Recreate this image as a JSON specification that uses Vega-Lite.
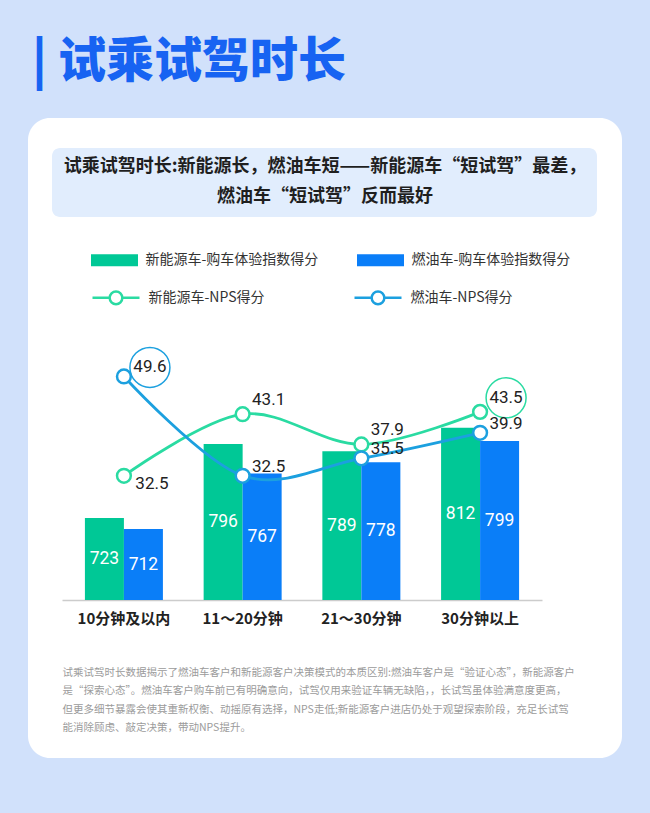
{
  "$schema": "https://vega.github.io/schema/vega-lite/v6.json",
  "width": 594,
  "height": 640,
  "autosize": {"type": "none"},
  "padding": {"left": 28, "right": 28, "top": 118, "bottom": 55},
  "background": "#d1e1fb",
  "config": {
    "view": {"fill": "#ffffff", "stroke": null, "cornerRadius": 22},
    "font": "Noto Sans CJK SC"
  },
  "title": {
    "text": "| 试乘试驾时长",
    "anchor": "start",
    "frame": "group",
    "fontSize": 48,
    "fontWeight": 900,
    "color": "#1763f2",
    "font": "Noto Sans CJK SC",
    "baseline": "alphabetic",
    "offset": -7,
    "dx": 4
  },
  "datasets": {
    "bars": [
      {"cat": "10分钟及以内", "series": "新能源车-购车体验指数得分", "score": 723},
      {"cat": "10分钟及以内", "series": "燃油车-购车体验指数得分", "score": 712},
      {"cat": "11～20分钟", "series": "新能源车-购车体验指数得分", "score": 796},
      {"cat": "11～20分钟", "series": "燃油车-购车体验指数得分", "score": 767},
      {"cat": "21～30分钟", "series": "新能源车-购车体验指数得分", "score": 789},
      {"cat": "21～30分钟", "series": "燃油车-购车体验指数得分", "score": 778},
      {"cat": "30分钟以上", "series": "新能源车-购车体验指数得分", "score": 812},
      {"cat": "30分钟以上", "series": "燃油车-购车体验指数得分", "score": 799}
    ],
    "nps": [
      {"cat": "10分钟及以内", "series": "新能源车-NPS得分", "nps": 32.5},
      {"cat": "11～20分钟", "series": "新能源车-NPS得分", "nps": 43.1},
      {"cat": "21～30分钟", "series": "新能源车-NPS得分", "nps": 37.9},
      {"cat": "30分钟以上", "series": "新能源车-NPS得分", "nps": 43.5},
      {"cat": "10分钟及以内", "series": "燃油车-NPS得分", "nps": 49.6},
      {"cat": "11～20分钟", "series": "燃油车-NPS得分", "nps": 32.5},
      {"cat": "21～30分钟", "series": "燃油车-NPS得分", "nps": 35.5},
      {"cat": "30分钟以上", "series": "燃油车-NPS得分", "nps": 39.9}
    ]
  },
  "resolve": {"scale": {"y": "independent"}},
  "layer": [
    {
      "layer": [
        {
          "data": {"values": [{"box": "subtitle"}]},
          "mark": {"type": "rect", "fill": "#e1edfd", "cornerRadius": 8, "xOffset": -25, "x2Offset": 24},
          "encoding": {
            "x": {"value": "width"},
            "x2": {"value": 0},
            "y": {"datum": 1088.4, "type": "quantitative", "axis": null},
            "y2": {"datum": 1020.2}
          }
        },
        {
          "data": {"values": [{"box": "subtitle"}]},
          "mark": {"type": "text", "align": "center", "baseline": "middle", "fontSize": 18, "fontWeight": "bold", "color": "#1f1f1f", "lineHeight": 30, "font": "Noto Sans CJK SC"},
          "encoding": {
            "y": {"datum": 1069.6, "type": "quantitative", "axis": null},
            "text": {"value": ["试乘试驾时长:新能源长，燃油车短——新能源车“短试驾”最差，", "燃油车“短试驾”反而最好"]}
          }
        },
        {
          "data": {"name": "bars"},
          "mark": {"type": "bar"},
          "encoding": {
            "x": {
              "field": "cat", "type": "nominal", "sort": null,
              "scale": {"range": [34, 514], "paddingInner": 0.343, "paddingOuter": 0.193},
              "axis": {
                "offset": -158,
                "domainColor": "#cccccc",
                "domainWidth": 1.5,
                "ticks": false,
                "labelAngle": 0,
                "labelFontSize": 15,
                "labelFontWeight": "bold",
                "labelColor": "#222222",
                "labelPadding": 11,
                "labelFont": "Noto Sans CJK SC",
                "titleFontSize": 10.5,
                "titleFontWeight": "normal",
                "titleColor": "#9b9b9b",
                "titleFont": "Noto Sans CJK SC",
                "titleAnchor": "start",
                "titleAlign": "left",
                "titleBaseline": "top",
                "titleY": 67,
                "titleLineHeight": 18.5
              },
              "title": [
                "试乘试驾时长数据揭示了燃油车客户和新能源客户决策模式的本质区别:燃油车客户是“验证心态”，新能源客户",
                "是“探索心态”。燃油车客户购车前已有明确意向，试驾仅用来验证车辆无缺陷，，长试驾虽体验满意度更高，",
                "但更多细节暴露会使其重新权衡、动摇原有选择，NPS走低;新能源客户进店仍处于观望探索阶段，充足长试驾",
                "能消除顾虑、敲定决策，带动NPS提升。"
              ]
            },
            "xOffset": {"field": "series", "type": "nominal", "sort": null, "scale": {"domain": ["新能源车-购车体验指数得分", "燃油车-购车体验指数得分"], "paddingInner": 0, "paddingOuter": 0}},
            "y": {"field": "score", "type": "quantitative", "scale": {"domain": [642, 1118], "range": [482, 0], "zero": false, "nice": false}, "axis": null},
            "y2": {"datum": 642},
            "fill": {
              "field": "series", "type": "nominal",
              "scale": {"domain": ["新能源车-购车体验指数得分", "燃油车-购车体验指数得分"], "range": ["#00c896", "#0a7ef8"]},
              "legend": {
                "title": null,
                "orient": "none",
                "legendX": 63,
                "legendY": 118.5,
                "direction": "horizontal",
                "columnPadding": 38,
                "symbolType": "M-1,-0.255H1V0.255H-1Z",
                "symbolSize": 2209,
                "symbolStrokeWidth": 0,
                "labelOffset": 7.5,
                "labelFontSize": 14,
                "labelColor": "#333333",
                "labelFont": "Noto Sans CJK SC",
                "labelLimit": 400
              }
            }
          }
        },
        {
          "data": {"name": "bars"},
          "transform": [{"calculate": "(datum.score + 642) / 2", "as": "mid"}],
          "mark": {"type": "text", "fill": "#ffffff", "fontSize": 17.5, "font": "Roboto", "baseline": "middle"},
          "encoding": {
            "x": {"field": "cat", "type": "nominal", "sort": null},
            "xOffset": {"field": "series", "type": "nominal", "sort": null},
            "y": {"field": "mid", "type": "quantitative", "axis": null},
            "text": {"field": "score", "type": "quantitative"}
          }
        }
      ]
    },
    {
      "data": {"name": "nps"},
      "transform": [
        {"joinaggregate": [{"op": "max", "field": "nps", "as": "catmax"}], "groupby": ["cat"]},
        {"joinaggregate": [{"op": "max", "field": "nps", "as": "seriesmax"}], "groupby": ["series"]}
      ],
      "layer": [
        {
          "mark": {"type": "line", "interpolate": "cardinal", "strokeWidth": 2.8},
          "encoding": {
            "x": {"field": "cat", "type": "nominal", "sort": null},
            "y": {"field": "nps", "type": "quantitative", "scale": {"domain": [11.12, 94.08], "range": [482, 0], "zero": false, "nice": false}, "axis": null},
            "stroke": {
              "field": "series", "type": "nominal",
              "scale": {"domain": ["新能源车-NPS得分", "燃油车-NPS得分"], "range": ["#2adba2", "#1ca0df"]},
              "legend": {
                "title": null,
                "orient": "none",
                "legendX": 63,
                "legendY": 154.5,
                "direction": "horizontal",
                "columnPadding": 84,
                "symbolType": "M-1,0H-0.27M0.27,0H1M0.27,0A0.27,0.27 0 1,1 -0.27,0A0.27,0.27 0 1,1 0.27,0",
                "symbolSize": 2209,
                "symbolStrokeWidth": 2.5,
                "symbolFillColor": "#ffffff",
                "labelOffset": 7.5,
                "labelFontSize": 14,
                "labelColor": "#333333",
                "labelFont": "Noto Sans CJK SC",
                "labelLimit": 400
              }
            }
          }
        },
        {
          "mark": {"type": "point", "filled": false, "fill": "#ffffff", "size": 190, "strokeWidth": 2.5, "opacity": 1},
          "encoding": {
            "x": {"field": "cat", "type": "nominal", "sort": null},
            "y": {"field": "nps", "type": "quantitative", "axis": null},
            "color": {"field": "series", "type": "nominal", "scale": {"domain": ["新能源车-NPS得分", "燃油车-NPS得分"], "range": ["#2adba2", "#1ca0df"]}, "legend": null}
          }
        },
        {
          "transform": [{"filter": "datum.series === '新能源车-NPS得分' && datum.nps === datum.seriesmax"}],
          "mark": {"type": "point", "filled": false, "size": 1600, "strokeWidth": 1.5, "xOffset": 26, "yOffset": -14, "opacity": 1},
          "encoding": {
            "x": {"field": "cat", "type": "nominal", "sort": null},
            "y": {"field": "nps", "type": "quantitative", "axis": null},
            "color": {"field": "series", "type": "nominal", "legend": null}
          }
        },
        {
          "transform": [{"filter": "datum.series === '燃油车-NPS得分' && datum.nps === datum.seriesmax"}],
          "mark": {"type": "point", "filled": false, "size": 1600, "strokeWidth": 1.5, "xOffset": 26, "yOffset": -9, "opacity": 1},
          "encoding": {
            "x": {"field": "cat", "type": "nominal", "sort": null},
            "y": {"field": "nps", "type": "quantitative", "axis": null},
            "color": {"field": "series", "type": "nominal", "legend": null}
          }
        },
        {
          "transform": [{"filter": "datum.series === '新能源车-NPS得分' && datum.nps === datum.catmax"}],
          "mark": {"type": "text", "align": "center", "baseline": "middle", "dx": 26, "dy": -14, "fontSize": 17, "font": "Roboto", "fill": "#222222"},
          "encoding": {
            "x": {"field": "cat", "type": "nominal", "sort": null},
            "y": {"field": "nps", "type": "quantitative", "axis": null},
            "text": {"field": "nps", "type": "quantitative", "format": ".1f"}
          }
        },
        {
          "transform": [{"filter": "datum.series === '新能源车-NPS得分' && datum.nps < datum.catmax"}],
          "mark": {"type": "text", "align": "center", "baseline": "middle", "dx": 28, "dy": 8, "fontSize": 17, "font": "Roboto", "fill": "#222222"},
          "encoding": {
            "x": {"field": "cat", "type": "nominal", "sort": null},
            "y": {"field": "nps", "type": "quantitative", "axis": null},
            "text": {"field": "nps", "type": "quantitative", "format": ".1f"}
          }
        },
        {
          "transform": [{"filter": "datum.series === '燃油车-NPS得分'"}],
          "mark": {"type": "text", "align": "center", "baseline": "middle", "dx": 26, "dy": -9, "fontSize": 17, "font": "Roboto", "fill": "#222222"},
          "encoding": {
            "x": {"field": "cat", "type": "nominal", "sort": null},
            "y": {"field": "nps", "type": "quantitative", "axis": null},
            "text": {"field": "nps", "type": "quantitative", "format": ".1f"}
          }
        }
      ]
    }
  ]
}
